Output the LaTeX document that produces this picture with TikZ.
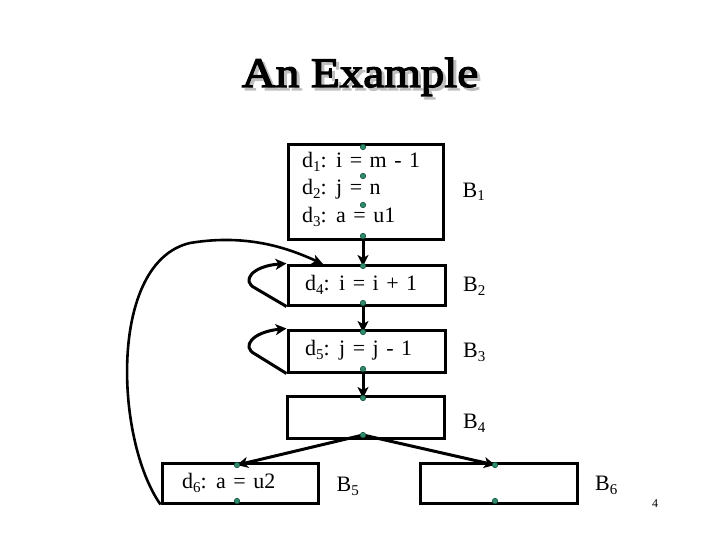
\documentclass[tikz,border=0pt]{standalone}
\usepackage{fontspec}
\setmainfont{Liberation Serif}
\newfontfamily\ttlfont{Liberation Serif}[FakeBold=3]
\usetikzlibrary{arrows.meta}
\definecolor{dotgreen}{RGB}{46,139,110}
\definecolor{dotedge}{RGB}{25,85,65}
\newcommand\sbs[1]{\raisebox{-4pt}{\fontsize{15}{15}\selectfont #1}}
\begin{document}
\begin{tikzpicture}[x=1pt,y=-1pt,
  blk/.style={draw,line width=3pt,inner sep=0pt},
  pt/.style={circle,fill=dotgreen,draw=dotedge,line width=0.6pt,minimum size=5.5pt,inner sep=0pt},
  txt/.style={anchor=base west,inner sep=0pt,font=\fontsize{22}{26}\selectfont},
  flow/.style={line width=3pt,-{Stealth[length=11pt,width=11pt,inset=3pt]}},
  back/.style={line width=2.6pt,-{Stealth[length=11pt,width=10pt,inset=3pt]}},
  ttl/.style={anchor=base,inner sep=0pt,font=\fontsize{42}{48}\ttlfont},
]
\useasboundingbox (0,0) rectangle (720,540);

% title with shadow
\node[ttl,text=black!25] (titleshadow) at (363,90) {\scalebox{1.12}[1]{An Example}};
\node[ttl] (title) at (360,87) {\scalebox{1.12}[1]{An Example}};

% blocks
\node[blk,minimum width=155pt,minimum height=95pt] (b1) at (365.5,192) {};
\node[blk,minimum width=157pt,minimum height=40pt] (b2) at (366.5,285) {};
\node[blk,minimum width=157pt,minimum height=42pt] (b3) at (366.5,351) {};
\node[blk,minimum width=157pt,minimum height=42pt] (b4) at (365.5,417) {};
\node[blk,minimum width=156pt,minimum height=40pt] (b5) at (240,483) {};
\node[blk,minimum width=157pt,minimum height=40pt] (b6) at (498.5,483) {};

% texts
\node[txt] (t1) at (302,167.5) {\spaceskip=7.5pt d\sbs{1}: i = m - 1};
\node[txt] (t2) at (302,195) {\spaceskip=7.5pt d\sbs{2}: j = n};
\node[txt] (t3) at (302,222.5) {\spaceskip=7.5pt d\sbs{3}: a = u1};
\node[txt] (t4) at (305,290) {\spaceskip=7.5pt d\sbs{4}: i = i + 1};
\node[txt] (t5) at (305,355) {\spaceskip=7.5pt d\sbs{5}: j = j - 1};
\node[txt] (t6) at (182,488) {\spaceskip=7.5pt d\sbs{6}: a = u2};

% block labels
\node[txt] (l1) at (462.5,197) {B\sbs{1}};
\node[txt] (l2) at (463,291.5) {B\sbs{2}};
\node[txt] (l3) at (463,357.5) {B\sbs{3}};
\node[txt] (l4) at (463,428) {B\sbs{4}};
\node[txt] (l5) at (336.5,491) {B\sbs{5}};
\node[txt] (l6) at (595,490) {B\sbs{6}};

% dot positions
\coordinate (p1a) at (363,147);
\coordinate (p1b) at (363,176);
\coordinate (p1c) at (363,205);
\coordinate (p1d) at (363,236);
\coordinate (p2a) at (363,266);
\coordinate (p2b) at (363,303);
\coordinate (p3a) at (363,332);
\coordinate (p3b) at (363,369);
\coordinate (p4a) at (363,398);
\coordinate (p4b) at (363,435);
\coordinate (p5a) at (237,465);
\coordinate (p5b) at (237,501);
\coordinate (p6a) at (495,465);
\coordinate (p6b) at (495,501);
\coordinate (backend) at (323,264);

% connectors
\draw[flow] (b1.south -| p1d) -- (p2a);
\draw[flow] (b2.south -| p2b) -- (p3a);
\draw[flow] (b3.south -| p3b) -- (p4a);
\draw[flow] (p4b) -- (p5a);
\draw[flow] (p4b) -- (p6a);
\draw[flow] (b2.south west) -- (255,288) .. controls (241,281) and (252,266) .. (b2.north west);
\draw[flow] (b3.south west) -- (255,354) .. controls (241,347) and (252,332) .. (b3.north west);
\draw[back] (b5.south west) .. controls (115,440) and (108,262) .. (190,243) .. controls (250,233) and (292,250) .. (backend);

% dots
\foreach \p in {p1a,p1b,p1c,p1d,p2a,p2b,p3a,p3b,p4a,p4b,p5a,p5b,p6a,p6b}
  \node[pt] (d\p) at (\p) {};

% page number
\node[inner sep=0pt,font=\fontsize{12}{14}\selectfont] (pg) at (655,504) {4};
\end{tikzpicture}
\end{document}
